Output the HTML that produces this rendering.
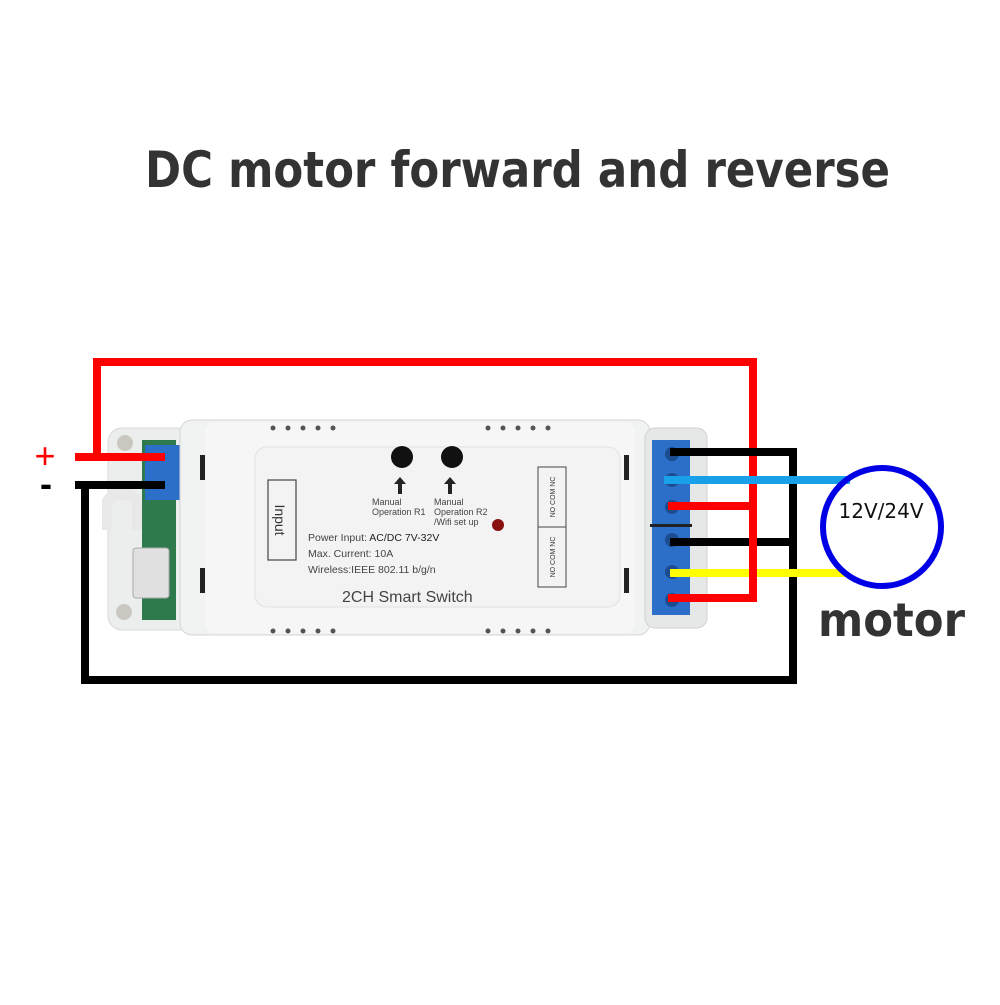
<!DOCTYPE html>
<html><head><meta charset="utf-8"><style>
body{margin:0;background:#fff;}
</style></head><body>
<svg width="1000" height="1000" viewBox="0 0 1000 1000" xmlns="http://www.w3.org/2000/svg" font-family="Liberation Sans, DejaVu Sans, sans-serif">
<rect width="1000" height="1000" fill="#fff"/>
<text x="145" y="187" textLength="745" lengthAdjust="spacingAndGlyphs" font-size="50" font-weight="bold" fill="#333" font-family="DejaVu Sans, sans-serif">DC motor forward and reverse</text>

<rect x="108" y="428" width="100" height="202" rx="14" fill="#eceeee" stroke="#d8dada"/>
<circle cx="125" cy="443" r="8" fill="#c8c8c0"/>
<circle cx="124" cy="612" r="8" fill="#c8c8c0"/>
<rect x="142" y="440" width="34" height="180" fill="#2f7a4c"/>
<rect x="145" y="445" width="35" height="55" fill="#2b6fc8"/>
<rect x="133" y="548" width="36" height="50" rx="3" fill="#e0e0e0" stroke="#aaa"/>
<path d="M102 500 a22 22 0 0 1 40 0 l0 30 l-10 0 l0 -25 a12 12 0 0 0 -20 0 l0 25 l-10 0z" fill="#e8e8e8"/>
<rect x="180" y="420" width="470" height="215" rx="12" fill="#f1f2f2" stroke="#d4d6d6"/>
<rect x="205" y="422" width="430" height="211" rx="10" fill="#f6f6f6"/>
<rect x="255" y="447" width="365" height="160" rx="12" fill="#f3f3f3" stroke="#e2e2e2"/>
<rect x="200" y="455" width="5" height="25" fill="#222"/>
<rect x="200" y="568" width="5" height="25" fill="#222"/>
<rect x="624" y="455" width="5" height="25" fill="#222"/>
<rect x="624" y="568" width="5" height="25" fill="#222"/>
<g fill="#555">
<circle cx="273" cy="428" r="2.5"/><circle cx="288" cy="428" r="2.5"/><circle cx="303" cy="428" r="2.5"/><circle cx="318" cy="428" r="2.5"/><circle cx="333" cy="428" r="2.5"/>
<circle cx="488" cy="428" r="2.5"/><circle cx="503" cy="428" r="2.5"/><circle cx="518" cy="428" r="2.5"/><circle cx="533" cy="428" r="2.5"/><circle cx="548" cy="428" r="2.5"/>
<circle cx="273" cy="631" r="2.5"/><circle cx="288" cy="631" r="2.5"/><circle cx="303" cy="631" r="2.5"/><circle cx="318" cy="631" r="2.5"/><circle cx="333" cy="631" r="2.5"/>
<circle cx="488" cy="631" r="2.5"/><circle cx="503" cy="631" r="2.5"/><circle cx="518" cy="631" r="2.5"/><circle cx="533" cy="631" r="2.5"/><circle cx="548" cy="631" r="2.5"/>
</g>
<rect x="268" y="480" width="28" height="80" fill="none" stroke="#444" stroke-width="1.2"/>
<text transform="translate(275,520) rotate(90)" text-anchor="middle" font-size="14" fill="#333">Input</text>
<circle cx="402" cy="457" r="11" fill="#111"/>
<circle cx="452" cy="457" r="11" fill="#111"/>
<path d="M398 494 v-10 h-4 l6 -7 l6 7 h-4 v10z" fill="#222"/>
<path d="M448 494 v-10 h-4 l6 -7 l6 7 h-4 v10z" fill="#222"/>
<text x="372" y="505" font-size="9" fill="#444">Manual</text>
<text x="372" y="515" font-size="9" fill="#444">Operation R1</text>
<text x="434" y="505" font-size="9" fill="#444">Manual</text>
<text x="434" y="515" font-size="9" fill="#444">Operation R2</text>
<text x="434" y="525" font-size="9" fill="#444">/Wifi set up</text>
<circle cx="498" cy="525" r="6" fill="#8a1010"/>
<text x="308" y="541" font-size="10.5" fill="#444">Power Input:  <tspan fill="#222">AC/DC 7V-32V</tspan></text>
<text x="308" y="557" font-size="10.5" fill="#444">Max. Current:  10A</text>
<text x="308" y="573" font-size="10.5" fill="#444">Wireless:IEEE 802.11 b/g/n</text>
<text x="342" y="602" font-size="16" fill="#444">2CH Smart Switch</text>
<rect x="538" y="467" width="28" height="120" fill="none" stroke="#444" stroke-width="1"/>
<line x1="538" y1="527" x2="566" y2="527" stroke="#444"/>
<g font-size="7" fill="#333">
<text transform="translate(555,497) rotate(-90)" text-anchor="middle">NO COM NC</text>
<text transform="translate(555,557) rotate(-90)" text-anchor="middle">NO COM NC</text>
</g>
<rect x="645" y="428" width="62" height="200" rx="10" fill="#e6e8e8" stroke="#d0d2d2"/>
<rect x="652" y="440" width="38" height="175" fill="#2b6fc8"/>
<g fill="#1c4c90"><circle cx="672" cy="454" r="7"/><circle cx="672" cy="480" r="7"/><circle cx="672" cy="507" r="7"/><circle cx="672" cy="540" r="7"/><circle cx="672" cy="572" r="7"/><circle cx="672" cy="600" r="7"/></g>
<rect x="650" y="524" width="42" height="3" fill="#222"/>

<g fill="none" stroke-width="8" stroke-linejoin="miter">
<path d="M75 457 H165" stroke="#f00"/>
<path d="M97 457 V362 H753 V602" stroke="#f00"/>
<path d="M668 506 H753 M668 598 H753" stroke="#f00"/>
<path d="M75 485 H165" stroke="#000"/>
<path d="M85 485 V680 H793 V452 H670 M670 542 H793" stroke="#000"/>
<path d="M664 480 H850" stroke="#1aa0e8"/>
<path d="M670 573 H845" stroke="#ff0"/>
</g>
<path d="M753 506 V598" stroke="#f00" stroke-width="8"/>
<circle cx="882" cy="527" r="59" fill="none" stroke="#0000e6" stroke-width="6"/>
<text x="881" y="518" text-anchor="middle" font-size="20" fill="#111" font-family="DejaVu Sans, sans-serif">12V/24V</text>
<text x="818" y="636" textLength="147" lengthAdjust="spacingAndGlyphs" font-size="46" font-weight="bold" fill="#333" font-family="DejaVu Sans, sans-serif">motor</text>
<text x="45" y="468" text-anchor="middle" font-size="36" fill="#f00">+</text>
<text x="46" y="496" text-anchor="middle" font-size="36" font-weight="bold" fill="#000">-</text>
</svg>
</body></html>
